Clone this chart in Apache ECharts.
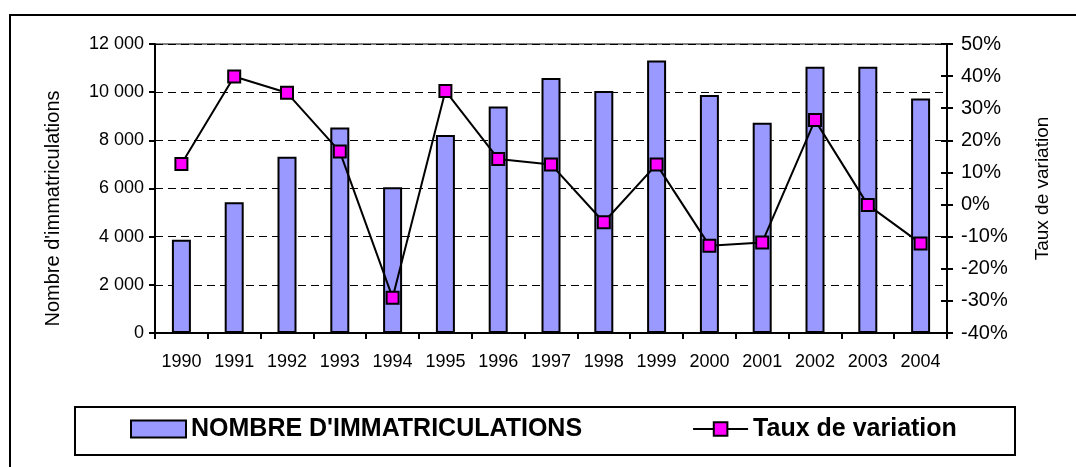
<!DOCTYPE html>
<html>
<head>
<meta charset="utf-8">
<script src="https://cdn.jsdelivr.net/npm/echarts@6/dist/echarts.min.js"></script>
<style>
html,body{margin:0;padding:0;background:#fff;}
#chart{width:1076px;height:467px;}
</style>
</head>
<body>
<div id="chart"></div>
<script>
const years = ['1990','1991','1992','1993','1994','1995','1996','1997','1998','1999','2000','2001','2002','2003','2004'];
const immatriculations = [3870, 5430, 7320, 8530, 6050, 8220, 9400, 10590, 10050, 11310, 9880, 8730, 11060, 11060, 9740];
const tauxVariation = [12.6, 39.9, 34.8, 16.5, -29.0, 35.4, 14.2, 12.5, -5.5, 12.5, -12.8, -11.8, 26.3, -0.1, -12.1];
const leftTicks = {min: 0, max: 12000, interval: 2000};
const rightTicks = {min: -40, max: 50, interval: 10};
const seriesNames = ["NOMBRE D'IMMATRICULATIONS", 'Taux de variation'];
const axisNames = ["Nombre d'immatriculations", 'Taux de variation'];

const arial = "'Liberation Sans', Arial, sans-serif";

const chart = echarts.init(document.getElementById('chart'), null, {renderer: 'canvas'});
chart.setOption({
  animation: false,
  backgroundColor: '#ffffff',
  grid: {left: 155, right: 129, top: 44, bottom: 134, show: true, borderColor: '#000', borderWidth: 1, backgroundColor: 'transparent'},
  graphic: [
    {type: 'rect', shape: {x: 10, y: 15, width: 1200, height: 600}, style: {fill: 'none', stroke: '#000', lineWidth: 2}, silent: true},
    {type: 'rect', shape: {x: 75, y: 407, width: 940, height: 48}, style: {fill: 'none', stroke: '#000', lineWidth: 2}, silent: true}
  ],
  legend: {
    left: 130, top: 414, padding: 0, itemGap: 110,
    itemWidth: 55, itemHeight: 17,
    textStyle: {fontFamily: arial, fontWeight: 'bold', fontSize: 25, color: '#000', lineHeight: 30},
    data: [{name: seriesNames[0], icon: 'rect'}, {name: seriesNames[1]}]
  },
  xAxis: {
    type: 'category', data: years,
    axisLine: {lineStyle: {color: '#000', width: 2}},
    axisTick: {show: true, length: 6, lineStyle: {color: '#000', width: 2}},
    axisLabel: {interval: 0, fontFamily: arial, fontSize: 18, color: '#000', margin: 20},
    splitLine: {show: false}
  },
  yAxis: [
    {
      type: 'value', position: 'left', min: leftTicks.min, max: leftTicks.max, interval: leftTicks.interval,
      name: axisNames[0], nameLocation: 'middle', nameGap: 92, nameRotate: 90,
      nameTextStyle: {fontFamily: arial, fontSize: 20, color: '#000', padding: [0, 40, 0, 0]},
      axisLine: {show: true, lineStyle: {color: '#000', width: 2}},
      axisTick: {show: true, length: 6, lineStyle: {color: '#000', width: 2}},
      axisLabel: {fontFamily: arial, fontSize: 18, color: '#000', margin: 11,
        formatter: v => String(v).replace(/\B(?=(\d{3})+(?!\d))/g, ' ')},
      splitLine: {show: true, lineStyle: {color: '#000', width: 1, type: [8, 5]}}
    },
    {
      type: 'value', position: 'right', min: rightTicks.min, max: rightTicks.max, interval: rightTicks.interval,
      name: axisNames[1], nameLocation: 'middle', nameGap: 86, nameRotate: 90,
      nameTextStyle: {fontFamily: arial, fontSize: 19, color: '#000'},
      axisLine: {show: true, lineStyle: {color: '#000', width: 2}},
      axisTick: {show: true, length: 6, lineStyle: {color: '#000', width: 2}},
      axisLabel: {fontFamily: arial, fontSize: 20, color: '#000', margin: 14, formatter: '{value}%'},
      splitLine: {show: false}
    },
    {
      type: 'value', position: 'right', min: rightTicks.min, max: rightTicks.max, interval: rightTicks.interval,
      axisLine: {show: false},
      axisTick: {show: true, inside: true, length: 6, lineStyle: {color: '#000', width: 2}},
      axisLabel: {show: false},
      splitLine: {show: false}
    }
  ],
  series: [
    {
      name: seriesNames[0], type: 'bar', yAxisIndex: 0, data: immatriculations, barWidth: 19,
      itemStyle: {color: '#9999FF', borderColor: '#000', borderWidth: 2}
    },
    {
      name: seriesNames[1], type: 'line', yAxisIndex: 1, data: tauxVariation,
      symbol: 'rect', symbolSize: 12,
      lineStyle: {color: '#000', width: 2},
      itemStyle: {color: '#FF00FF', borderColor: '#000', borderWidth: 2}
    }
  ]
});
</script>
</body>
</html>
